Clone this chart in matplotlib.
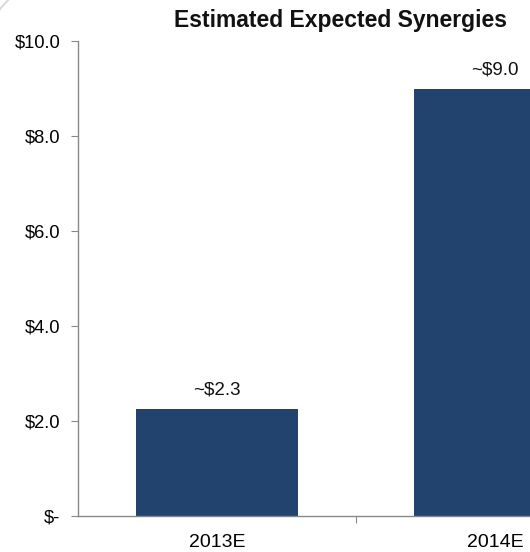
import matplotlib
matplotlib.use("Agg")
import matplotlib.pyplot as plt
from matplotlib.patches import Arc

categories = ["2013E", "2014E"]
values = [2.25, 9.0]
labels = ["~$2.3", "~$9.0"]
yticks = [0, 2, 4, 6, 8, 10]
ytick_labels = ["$-", "$2.0", "$4.0", "$6.0", "$8.0", "$10.0"]

plt.rcParams['font.family'] = ['Liberation Sans', 'DejaVu Sans']

fig = plt.figure(figsize=(5.30, 5.52), dpi=100)
W, H = 530, 552
left, right, top, bottom = 78, 634, 41, 516
ax = fig.add_axes([left / W, 1 - bottom / H, (right - left) / W, (bottom - top) / H])

x = list(range(len(categories)))
ax.bar(x, values, width=0.583, color="#23436f")
for xi, v, lab in zip(x, values, labels):
    ax.text(xi, v + 0.22, lab, ha="center", va="bottom", fontsize=13.5, color="#111111")

ax.set_xlim(-0.5, 1.5)
ax.set_ylim(0, 10)
ax.set_yticks(yticks)
ax.set_yticklabels(ytick_labels, fontsize=13.2)
ax.set_xticks([0.5])
ax.set_xticks(x, minor=True)
ax.set_xticklabels([""])
ax.set_xticklabels(categories, minor=True, fontsize=14)
ax.tick_params(axis="x", which="minor", length=0, pad=13)
ax.tick_params(axis="x", which="major", length=5, color="#888888", direction="out")
ax.tick_params(axis="y", length=5, color="#888888", direction="out", pad=7.5)

for s in ["top", "right"]:
    ax.spines[s].set_visible(False)
for s in ["left", "bottom"]:
    ax.spines[s].set_color("#888888")
    ax.spines[s].set_linewidth(1.0)

fig.text(341 / W, 1 - 20 / H, "Estimated Expected Synergies", ha="center", va="center",
         fontsize=16.5, fontweight="bold", color="#111111")

# faint decorative arc in the top-left corner
cx, cy, r = 330, 300, 440
arc = Arc((cx / W, 1 - cy / H), 2 * r / W, 2 * r / H, theta1=132, theta2=148,
          transform=fig.transFigure, color="#c4cad4", lw=1.5, alpha=0.7)
fig.add_artist(arc)

fig.savefig("out.png", dpi=100)
